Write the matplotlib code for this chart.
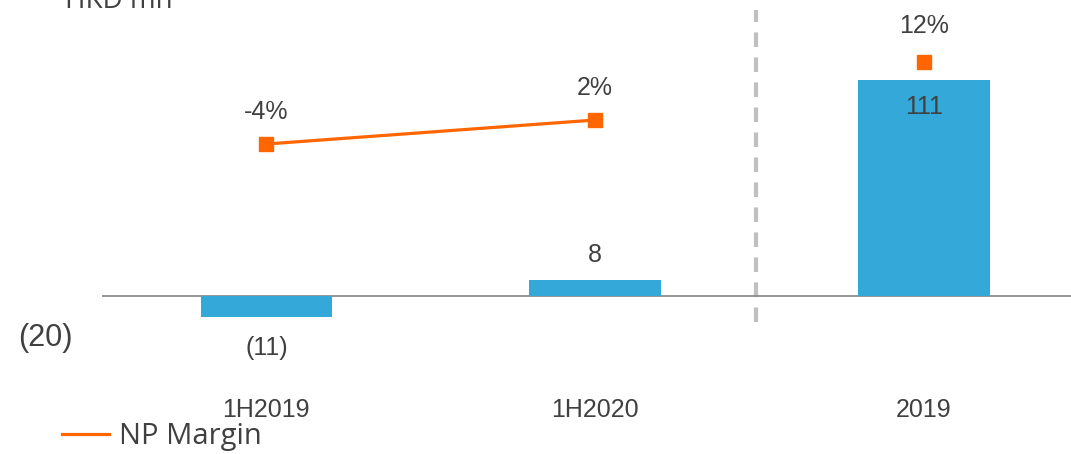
import numpy as np
import matplotlib.pyplot as plt

# 净利润（港币百万）及净利润率
categories = ['1H2019', '1H2020', '2019']
net_profit = [-11, 8, 111]
half_margin = [-4, 2]        # 1H2019, 1H2020
annual_margin = [12]         # 2019
profit_labels = ['(11)', '8', '111']

bar_color = '#34A8D8'
line_color = '#FF6600'
text_color = '#404040'

plt.rcParams['font.family'] = ['Liberation Sans', 'DejaVu Sans']

fig = plt.figure(figsize=(10.71, 4.54), dpi=100)
ax = fig.add_axes([0.0952, 0.1762, 0.9048, 0.7797])

x = np.arange(len(categories))
ax.bar(x, net_profit, width=0.4, color=bar_color, zorder=2)
ax.axhline(0, color='#8C8C8C', lw=1.3, zorder=1)

ax.set_xlim(-0.5, 2.447)
ax.set_ylim(-40, 141.5)
ax.set_xticks(x)
ax.set_xticklabels(categories, fontsize=18, color=text_color)
ax.set_yticks([-20])
ax.set_yticklabels(['(20)'], fontsize=22, color=text_color)
ax.tick_params(axis='x', length=0, pad=17)
ax.tick_params(axis='y', length=0, pad=21)
for s in ax.spines.values():
    s.set_visible(False)

# 柱状数值标签
for xi, v, lab in zip(x, net_profit, profit_labels):
    if v < 0:
        ax.annotate(lab, (xi, v), xytext=(0, -31), textcoords='offset pixels',
                    ha='center', va='center', fontsize=18, color=text_color)
    elif v > 50:
        ax.annotate(lab, (xi, v), xytext=(0, -27), textcoords='offset pixels',
                    ha='center', va='center', fontsize=18, color=text_color)
    else:
        ax.annotate(lab, (xi, v), xytext=(0, 25), textcoords='offset pixels',
                    ha='center', va='center', fontsize=18, color=text_color)

# 半年度与全年分隔线
ax.axvline(1.49, ymin=0.147, ymax=1.028, color='#C0C0C0', lw=3,
           dashes=(3.5, 2.5), clip_on=False, zorder=0)

# 半年度净利润率
ax2 = ax.twinx()
ax2.set_ylim(-61.5, 27)
ax2.plot(x[:2], half_margin, color=line_color, lw=2.3, marker='s',
         markersize=10, label='NP Margin')
for xi, m in zip(x[:2], half_margin):
    ax2.annotate(f'{m}%', (xi, m), xytext=(0, 32), textcoords='offset pixels',
                 ha='center', va='center', fontsize=18, color=text_color)

# 全年净利润率
ax3 = ax.twinx()
ax3.set_ylim(-66, 22.5)
ax3.plot(x[2:], annual_margin, color=line_color, lw=0, marker='s', markersize=10)
for xi, m in zip(x[2:], annual_margin):
    ax3.annotate(f'{m}%', (xi, m), xytext=(0, 36), textcoords='offset pixels',
                 ha='center', va='center', fontsize=18, color=text_color)

for a in (ax2, ax3):
    a.set_yticks([])
    for s in a.spines.values():
        s.set_visible(False)

fig.text(65 / 1071, 1 - 8 / 454, 'HKD mn', fontsize=20, color=text_color,
         ha='left', va='baseline', family=['Open Sans', 'DejaVu Sans'])

leg = ax2.legend(loc='lower left', bbox_to_anchor=(62 / 1071, 3 / 454),
                 bbox_transform=fig.transFigure, frameon=False,
                 handlelength=1.6, handletextpad=0.35, borderpad=0, borderaxespad=0,
                 prop={'family': ['Open Sans', 'DejaVu Sans'], 'size': 21})
for t in leg.get_texts():
    t.set_color(text_color)
for h in leg.get_lines():
    h.set_marker('')

fig.savefig('out.png', dpi=100)
